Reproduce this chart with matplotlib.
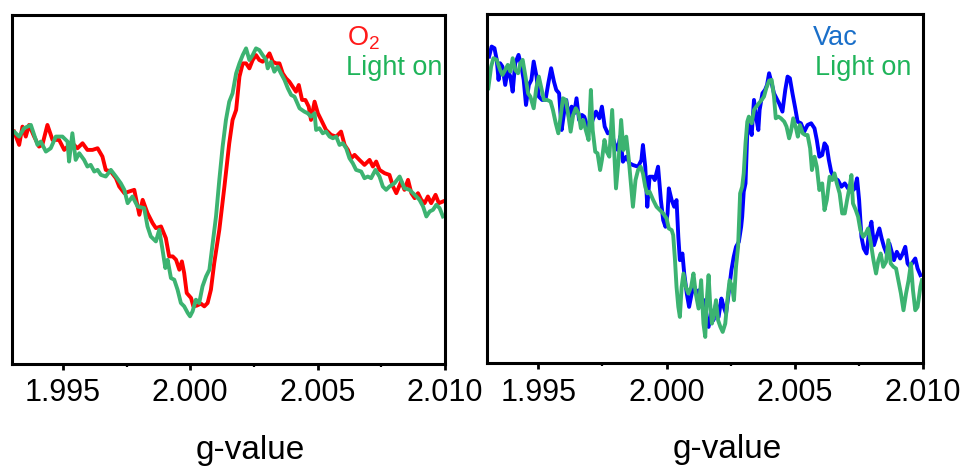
import matplotlib
matplotlib.use('Agg')
import matplotlib.pyplot as plt
from matplotlib.ticker import MultipleLocator, FormatStrFormatter

plt.rcParams['font.family'] = ['Liberation Sans', 'DejaVu Sans']
plt.rcParams['mathtext.fontset'] = 'custom'
plt.rcParams['mathtext.rm'] = 'Liberation Sans'

# ---- left panel: O2 vs light on ----
g_o2 = [1.99308, 1.99328, 1.99341, 1.99354, 1.99367, 1.99387, 1.99406, 1.99419, 1.99439, 1.99459,
        1.99485, 1.99505, 1.99518, 1.99537, 1.99557, 1.99577, 1.99596, 1.99616, 1.99636, 1.99655,
        1.99668, 1.99688, 1.99708, 1.99721, 1.99741, 1.99760, 1.99780, 1.99800, 1.99813, 1.99832,
        1.99852, 1.99865, 1.99885, 1.99904, 1.99917, 1.99931, 1.99944, 1.99957, 1.99967, 1.99976,
        1.99986, 2.00003, 2.00012, 2.00025, 2.00042, 2.00055, 2.00068, 2.00081, 2.00094, 2.00114,
        2.00134, 2.00153, 2.00166, 2.00180, 2.00193, 2.00206, 2.00219, 2.00232, 2.00245, 2.00258,
        2.00271, 2.00284, 2.00298, 2.00311, 2.00324, 2.00337, 2.00350, 2.00363, 2.00376, 2.00389,
        2.00402, 2.00415, 2.00426, 2.00439, 2.00452, 2.00465, 2.00474, 2.00488, 2.00501, 2.00514,
        2.00533, 2.00553, 2.00573, 2.00592, 2.00606, 2.00619, 2.00632, 2.00645, 2.00664, 2.00684,
        2.00704, 2.00717, 2.00730, 2.00743, 2.00763, 2.00782, 2.00796, 2.00809, 2.00828, 2.00841,
        2.00855, 2.00868, 2.00881, 2.00894, 2.00907, 2.00920, 2.00933, 2.00946, 2.00963, 2.00976,
        2.00992]
i_o2 = [69.8, 65.8, 71.3, 68.3, 71.8, 68.3, 65.3, 65.8, 71.8, 67.3,
        67.3, 64.3, 65.3, 66.3, 64.8, 66.3, 64.3, 64.3, 64.8, 62.3,
        58.3, 57.8, 55.8, 53.3, 51.3, 51.8, 52.3, 44.8, 49.3, 45.3,
        42.3, 40.8, 41.3, 37.8, 32.3, 32.3, 31.3, 28.3, 30.8, 27.3,
        21.3, 19.8, 17.3, 17.5, 18.1, 17.3, 18.3, 22.3, 30.3, 40.3,
        53.3, 66.3, 73.3, 76.3, 86.3, 90.3, 90.3, 88.8, 91.3, 92.8,
        91.3, 90.8, 91.8, 93.3, 90.8, 90.3, 90.3, 87.3, 85.8, 84.8,
        83.3, 81.8, 83.8, 79.3, 79.3, 77.3, 73.3, 78.8, 75.3, 73.3,
        70.3, 68.8, 68.3, 69.8, 65.8, 64.3, 61.8, 62.8, 61.3, 59.8,
        61.3, 59.3, 60.8, 58.3, 57.3, 56.8, 53.3, 51.3, 54.8, 52.3,
        55.3, 51.3, 49.8, 51.3, 49.3, 48.3, 50.3, 48.3, 50.8, 48.3,
        48.8]

g_light1 = [1.99299, 1.99308, 1.99328, 1.99347, 1.99374, 1.99400, 1.99413, 1.99433, 1.99452, 1.99472,
            1.99498, 1.99518, 1.99524, 1.99537, 1.99550, 1.99564, 1.99583, 1.99596, 1.99609, 1.99623,
            1.99636, 1.99649, 1.99668, 1.99688, 1.99708, 1.99727, 1.99741, 1.99754, 1.99773, 1.99793,
            1.99819, 1.99832, 1.99845, 1.99865, 1.99878, 1.99891, 1.99902, 1.99911, 1.99924, 1.99937,
            1.99950, 1.99963, 1.99976, 1.99990, 1.99999, 2.00009, 2.00022, 2.00035, 2.00048, 2.00062,
            2.00075, 2.00088, 2.00101, 2.00114, 2.00127, 2.00140, 2.00153, 2.00166, 2.00180, 2.00193,
            2.00206, 2.00219, 2.00232, 2.00245, 2.00258, 2.00271, 2.00284, 2.00298, 2.00304, 2.00317,
            2.00330, 2.00343, 2.00356, 2.00370, 2.00383, 2.00396, 2.00409, 2.00429, 2.00448, 2.00461,
            2.00474, 2.00488, 2.00494, 2.00507, 2.00520, 2.00533, 2.00547, 2.00560, 2.00573, 2.00586,
            2.00599, 2.00612, 2.00625, 2.00638, 2.00651, 2.00671, 2.00684, 2.00697, 2.00710, 2.00727,
            2.00743, 2.00756, 2.00769, 2.00782, 2.00802, 2.00822, 2.00841, 2.00861, 2.00881, 2.00900,
            2.00914, 2.00927, 2.00940, 2.00953, 2.00966, 2.00979, 2.00992]
i_light1 = [69.3, 69.8, 68.3, 70.8, 71.8, 65.8, 66.8, 63.8, 64.8, 68.3,
            68.3, 66.8, 60.8, 69.3, 61.3, 63.3, 61.3, 59.3, 59.8, 57.8,
            58.3, 56.8, 56.3, 58.3, 56.3, 54.3, 52.3, 48.3, 50.3, 47.3,
            46.8, 41.3, 38.3, 36.8, 40.3, 34.3, 28.8, 31.3, 25.8, 25.3,
            22.3, 18.3, 17.3, 15.3, 14.3, 15.8, 19.3, 18.3, 23.3, 26.3,
            28.3, 36.3, 44.3, 55.3, 65.3, 73.3, 78.8, 81.3, 87.3, 90.3,
            92.8, 94.8, 91.3, 92.8, 94.8, 94.3, 92.8, 91.3, 88.8, 90.8,
            87.8, 89.3, 87.3, 85.3, 82.8, 80.8, 80.3, 76.8, 75.8, 75.3,
            74.3, 75.3, 70.3, 70.8, 69.3, 69.8, 68.3, 67.8, 68.3, 65.8,
            66.3, 64.8, 61.8, 60.3, 58.3, 57.8, 55.8, 56.3, 55.8, 58.3,
            56.3, 53.3, 52.3, 53.3, 54.3, 56.3, 52.8, 52.3, 50.8, 49.3,
            47.3, 44.3, 45.8, 46.3, 47.8, 46.8, 44.3]

# ---- right panel: vacuum vs light on ----
g_vac = [1.99308, 1.99318, 1.99329, 1.99338, 1.99345, 1.99351, 1.99360, 1.99371, 1.99381, 1.99391,
         1.99400, 1.99410, 1.99423, 1.99434, 1.99443, 1.99452, 1.99463, 1.99473, 1.99482, 1.99493,
         1.99502, 1.99515, 1.99528, 1.99539, 1.99550, 1.99561, 1.99570, 1.99581, 1.99591, 1.99600,
         1.99609, 1.99620, 1.99630, 1.99640, 1.99649, 1.99659, 1.99670, 1.99679, 1.99692, 1.99701,
         1.99712, 1.99725, 1.99738, 1.99748, 1.99759, 1.99771, 1.99784, 1.99797, 1.99810, 1.99819,
         1.99830, 1.99843, 1.99856, 1.99869, 1.99889, 1.99902, 1.99908, 1.99917, 1.99925, 1.99934,
         1.99948, 1.99954, 1.99967, 1.99978, 1.99987, 1.99996, 2.00004, 2.00009, 2.00020, 2.00030,
         2.00039, 2.00046, 2.00052, 2.00062, 2.00069, 2.00079, 2.00088, 2.00098, 2.00109, 2.00118,
         2.00127, 2.00138, 2.00148, 2.00157, 2.00164, 2.00174, 2.00183, 2.00193, 2.00203, 2.00214,
         2.00223, 2.00232, 2.00242, 2.00253, 2.00262, 2.00271, 2.00282, 2.00291, 2.00295, 2.00301,
         2.00308, 2.00315, 2.00321, 2.00332, 2.00341, 2.00350, 2.00358, 2.00363, 2.00374, 2.00384,
         2.00392, 2.00400, 2.00410, 2.00419, 2.00432, 2.00439, 2.00452, 2.00463, 2.00472, 2.00481,
         2.00491, 2.00502, 2.00511, 2.00524, 2.00537, 2.00550, 2.00564, 2.00577, 2.00586, 2.00596,
         2.00607, 2.00616, 2.00625, 2.00633, 2.00642, 2.00655, 2.00668, 2.00682, 2.00695, 2.00708,
         2.00721, 2.00734, 2.00743, 2.00751, 2.00760, 2.00769, 2.00780, 2.00790, 2.00799, 2.00809,
         2.00819, 2.00830, 2.00839, 2.00848, 2.00858, 2.00869, 2.00878, 2.00887, 2.00898, 2.00911,
         2.00921, 2.00931, 2.00940, 2.00950, 2.00961, 2.00970, 2.00979, 2.00990]
i_vac = [91.8, 94.8, 94.3, 90.8, 84.8, 89.8, 88.8, 83.3, 87.8, 85.8,
         81.3, 89.8, 92.3, 88.8, 84.8, 77.3, 83.3, 84.8, 90.3, 85.8,
         79.8, 78.8, 78.8, 83.8, 88.3, 84.3, 81.8, 80.8, 69.8, 74.8,
         78.8, 73.3, 76.8, 74.8, 79.3, 72.8, 74.3, 73.8, 70.8, 69.8,
         72.8, 75.3, 73.3, 76.8, 70.8, 68.8, 69.3, 65.8, 63.8, 67.8,
         60.3, 61.8, 59.8, 59.3, 58.8, 60.8, 65.3, 58.8, 46.8, 55.8,
         55.8, 54.8, 58.8, 48.8, 42.8, 40.8, 44.8, 52.3, 48.8, 46.8,
         48.8, 37.8, 30.8, 32.8, 26.8, 20.8, 16.8, 20.8, 22.8, 20.8,
         21.8, 16.8, 18.8, 11.8, 10.8, 15.8, 12.8, 17.8, 13.8, 19.3,
         16.8, 14.8, 20.8, 27.8, 31.8, 34.8, 36.3, 40.8, 43.8, 51.3,
         53.8, 69.3, 72.8, 68.3, 78.8, 73.3, 69.8, 75.8, 80.8, 81.8,
         83.3, 86.8, 83.8, 80.8, 78.8, 77.8, 75.3, 81.8, 85.8, 85.3,
         80.8, 76.3, 72.3, 71.8, 69.3, 71.3, 71.8, 70.3, 66.8, 61.8,
         62.3, 65.8, 64.8, 60.8, 57.3, 55.3, 54.8, 52.8, 53.8, 52.3,
         51.3, 52.3, 55.3, 48.8, 37.8, 34.3, 32.8, 39.3, 42.3, 35.3,
         37.8, 40.3, 37.3, 34.8, 32.8, 35.8, 33.3, 30.8, 33.3, 31.3,
         32.8, 34.8, 29.8, 28.8, 30.3, 31.3, 28.3, 26.3]

g_light2 = [1.99305, 1.99316, 1.99325, 1.99338, 1.99351, 1.99360, 1.99371, 1.99381, 1.99391, 1.99400,
            1.99410, 1.99421, 1.99430, 1.99439, 1.99450, 1.99460, 1.99469, 1.99482, 1.99492, 1.99502,
            1.99512, 1.99522, 1.99535, 1.99548, 1.99557, 1.99568, 1.99578, 1.99587, 1.99596, 1.99607,
            1.99617, 1.99626, 1.99636, 1.99646, 1.99657, 1.99666, 1.99675, 1.99685, 1.99696, 1.99701,
            1.99705, 1.99712, 1.99722, 1.99731, 1.99741, 1.99748, 1.99758, 1.99767, 1.99777, 1.99788,
            1.99797, 1.99803, 1.99814, 1.99823, 1.99832, 1.99843, 1.99853, 1.99862, 1.99869, 1.99879,
            1.99889, 1.99899, 1.99908, 1.99917, 1.99925, 1.99934, 1.99948, 1.99961, 1.99974, 1.99987,
            2.00000, 2.00009, 2.00020, 2.00026, 2.00033, 2.00039, 2.00046, 2.00052, 2.00059, 2.00066,
            2.00075, 2.00085, 2.00096, 2.00105, 2.00114, 2.00125, 2.00135, 2.00144, 2.00151, 2.00157,
            2.00164, 2.00170, 2.00177, 2.00183, 2.00193, 2.00201, 2.00210, 2.00219, 2.00229, 2.00240,
            2.00246, 2.00256, 2.00263, 2.00271, 2.00279, 2.00287, 2.00295, 2.00301, 2.00308, 2.00315,
            2.00321, 2.00332, 2.00341, 2.00350, 2.00360, 2.00371, 2.00380, 2.00389, 2.00400, 2.00410,
            2.00419, 2.00426, 2.00436, 2.00446, 2.00459, 2.00468, 2.00478, 2.00485, 2.00494, 2.00505,
            2.00512, 2.00520, 2.00531, 2.00541, 2.00550, 2.00560, 2.00567, 2.00577, 2.00586, 2.00596,
            2.00607, 2.00616, 2.00625, 2.00636, 2.00646, 2.00655, 2.00664, 2.00675, 2.00685, 2.00695,
            2.00704, 2.00714, 2.00721, 2.00727, 2.00738, 2.00747, 2.00756, 2.00767, 2.00777, 2.00786,
            2.00796, 2.00807, 2.00817, 2.00826, 2.00835, 2.00845, 2.00856, 2.00865, 2.00874, 2.00885,
            2.00895, 2.00904, 2.00914, 2.00924, 2.00934, 2.00944, 2.00953, 2.00961, 2.00970, 2.00979,
            2.00990, 2.00996]
i_light2 = [82.3, 88.8, 91.3, 90.8, 87.8, 86.3, 87.8, 89.3, 87.3, 91.3,
            87.8, 86.8, 89.8, 90.8, 85.8, 80.8, 79.8, 76.3, 82.3, 85.8,
            82.3, 78.8, 78.8, 78.3, 75.8, 71.8, 68.8, 73.8, 79.3, 78.8,
            74.3, 69.3, 74.3, 76.3, 74.8, 70.3, 72.8, 69.8, 66.8, 75.3,
            81.8, 69.8, 63.3, 62.8, 57.8, 60.8, 66.8, 63.3, 61.8, 75.8,
            61.8, 52.3, 61.8, 72.8, 63.8, 67.8, 60.8, 52.8, 46.8, 54.8,
            57.8, 58.8, 56.8, 52.8, 50.8, 51.3, 48.8, 46.8, 45.8, 44.8,
            43.3, 40.3, 39.8, 38.3, 30.8, 22.8, 16.8, 13.8, 22.8, 26.8,
            22.8, 20.8, 22.8, 26.8, 20.8, 16.3, 24.8, 11.8, 7.8, 18.8,
            26.3, 17.8, 11.8, 13.8, 18.8, 12.8, 10.8, 9.3, 11.8, 20.8,
            24.8, 22.8, 18.8, 28.8, 34.8, 50.8, 52.8, 56.8, 65.8, 72.3,
            73.8, 71.8, 75.8, 76.8, 77.8, 78.8, 79.8, 82.3, 84.6, 84.8,
            79.8, 73.3, 73.8, 73.3, 72.3, 70.8, 67.3, 69.3, 73.3, 70.3,
            67.8, 71.3, 68.8, 68.3, 68.3, 64.3, 57.8, 61.8, 58.8, 51.8,
            53.8, 45.8, 48.8, 55.8, 54.8, 56.8, 53.8, 50.8, 44.8, 44.8,
            48.8, 52.8, 56.3, 47.8, 45.8, 43.8, 39.8, 37.8, 38.8, 40.3,
            36.3, 30.8, 26.8, 30.8, 32.8, 28.8, 30.3, 36.8, 29.8, 28.8,
            28.3, 24.8, 20.8, 15.8, 20.8, 24.8, 29.8, 21.8, 15.8, 16.8,
            22.8, 24.8]

fig = plt.figure(figsize=(9.69, 4.72), dpi=100)
ax1 = fig.add_axes([0.0124, 0.229, 0.4468, 0.739])
ax2 = fig.add_axes([0.5026, 0.231, 0.4499, 0.739])

ax1.plot(g_o2, i_o2, color='#ff0000', lw=2.8)
ax1.plot(g_light1, i_light1, color='#3cb371', lw=2.8)
ax2.plot(g_vac, i_vac, color='#0000ff', lw=2.8)
ax2.plot(g_light2, i_light2, color='#3cb371', lw=2.8)

ax1.set_ylim(0, 104.8)
ax2.set_ylim(0, 104.5)

for ax in (ax1, ax2):
    ax.set_xlim(1.993, 2.010)
    ax.xaxis.set_major_locator(MultipleLocator(0.005))
    ax.xaxis.set_minor_locator(MultipleLocator(0.0025))
    ax.xaxis.set_major_formatter(FormatStrFormatter('%.3f'))
    ax.set_yticks([])
    ax.tick_params(axis='x', which='major', direction='out', length=4.5, width=2,
                   labelsize=22, pad=6)
    ax.tick_params(axis='x', which='minor', direction='out', length=2.5, width=1.6)
    for s in ax.spines.values():
        s.set_linewidth(2.2)
    ax.set_xlabel('g-value', fontsize=24)
    ax.xaxis.set_label_coords(0.55, -0.205)

ax1.text(0.774, 0.914, r'$\mathregular{O_2}$', color='#ff1a1a', fontsize=19.5,
         transform=ax1.transAxes, va='baseline')
ax1.text(0.771, 0.828, 'Light on', color='#1fb45a', fontsize=19.5,
         transform=ax1.transAxes, va='baseline')
ax2.text(0.748, 0.911, 'Vac', color='#1a6fc9', fontsize=19.5,
         transform=ax2.transAxes, va='baseline')
ax2.text(0.752, 0.825, 'Light on', color='#1fb45a', fontsize=19.5,
         transform=ax2.transAxes, va='baseline')

plt.savefig('out.png', dpi=100)
